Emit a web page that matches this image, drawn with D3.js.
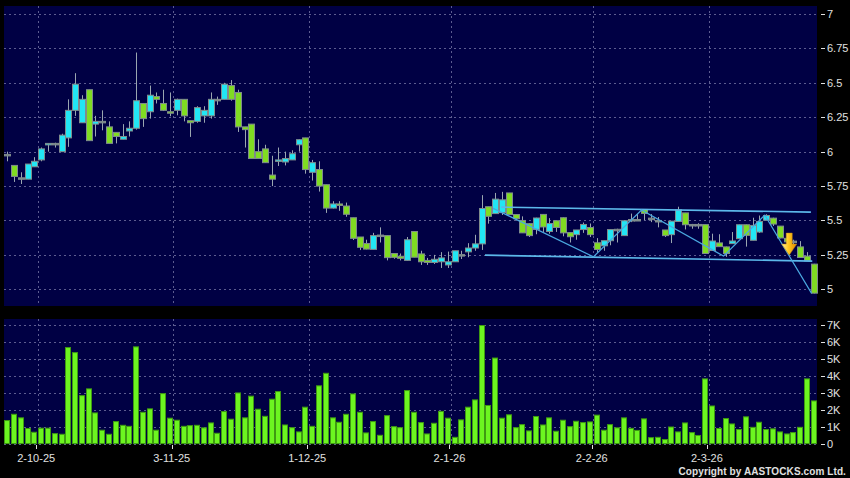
<!DOCTYPE html>
<html>
<head>
<meta charset="utf-8">
<script src="https://d3js.org/d3.v7.min.js"></script>
<style>
    body { margin: 0; background: #000; }
    svg { display: block; font-family: "Liberation Sans", Arial, sans-serif; }
</style>
</head>
<body>
<div id="chart"></div>
<script>
// daily candles, oldest first (index 0 = 25 Sep 2025)
var opens = [5.98,5.90,5.81,5.80,5.89,5.94,6.05,6.06,6.00,6.10,
    6.30,6.21,6.45,6.20,6.22,6.18,6.14,6.09,6.15,6.17,
    6.35,6.29,6.40,6.35,6.29,6.30,6.38,6.225,6.22,6.26,
    6.26,6.38,6.38,6.48,6.43,6.18,6.20,6.00,6.02,5.83,
    5.93,5.925,5.94,6.05,6.10,5.85,5.87,5.76,5.59,5.62,
    5.605,5.52,5.38,5.333,5.29,5.394,5.39,5.26,5.24,5.21,
    5.42,5.257,5.21,5.195,5.20,5.177,5.20,5.252,5.272,5.30,
    5.33,5.60,5.55,5.557,5.70,5.543,5.50,5.477,5.435,5.544,
    5.42,5.498,5.52,5.412,5.397,5.434,5.449,5.338,5.316,5.353,
    5.436,5.39,5.507,5.507,5.58,5.517,5.50,5.431,5.397,5.493,
    5.555,5.471,5.471,5.47,5.282,5.337,5.308,5.332,5.368,5.469,
    5.356,5.416,5.502,5.517,5.459,5.37,5.35,5.308,5.241,5.183];
var highs = [6.00,5.90,5.85,5.91,5.96,6.03,6.06,6.065,6.13,6.38,
    6.57,6.41,6.45,6.26,6.30,6.22,6.14,6.20,6.22,6.72,
    6.35,6.48,6.43,6.45,6.43,6.385,6.38,6.225,6.33,6.33,
    6.43,6.40,6.50,6.52,6.45,6.18,6.20,6.09,6.05,5.97,
    6.03,6.00,6.01,6.09,6.10,5.94,5.93,5.76,5.64,5.64,
    5.63,5.52,5.38,5.36,5.41,5.45,5.39,5.26,5.26,5.38,
    5.42,5.28,5.228,5.25,5.27,5.274,5.28,5.28,5.335,5.396,
    5.684,5.60,5.70,5.708,5.70,5.543,5.53,5.48,5.52,5.545,
    5.517,5.50,5.522,5.412,5.431,5.485,5.478,5.372,5.353,5.434,
    5.44,5.50,5.55,5.546,5.581,5.546,5.525,5.431,5.495,5.60,
    5.555,5.475,5.48,5.47,5.404,5.40,5.31,5.416,5.47,5.47,
    5.52,5.536,5.545,5.52,5.46,5.39,5.36,5.35,5.27,5.185];
var lows = [5.93,5.78,5.765,5.80,5.89,5.93,6.00,6.03,6.00,6.035,
    6.26,6.21,6.08,6.11,6.155,6.06,6.06,6.09,6.11,6.16,
    6.18,6.24,6.35,6.295,6.257,6.264,6.22,6.107,6.21,6.21,
    6.24,6.34,6.38,6.37,6.143,6.03,5.95,5.95,5.92,5.75,
    5.896,5.90,5.94,6.00,5.84,5.79,5.71,5.555,5.587,5.57,
    5.527,5.358,5.285,5.29,5.29,5.34,5.21,5.222,5.21,5.208,
    5.233,5.177,5.177,5.184,5.155,5.155,5.20,5.22,5.233,5.28,
    5.286,5.477,5.55,5.54,5.543,5.50,5.41,5.38,5.40,5.417,
    5.404,5.417,5.385,5.34,5.36,5.41,5.38,5.267,5.28,5.32,
    5.34,5.39,5.488,5.50,5.502,5.488,5.45,5.38,5.336,5.49,
    5.435,5.44,5.44,5.26,5.28,5.31,5.236,5.332,5.368,5.31,
    5.356,5.41,5.50,5.46,5.37,5.33,5.32,5.23,5.207,4.97];
var closes = [5.98,5.82,5.81,5.91,5.93,6.02,6.06,6.06,6.12,6.30,
    6.49,6.38,6.08,6.22,6.22,6.06,6.11,6.11,6.17,6.37,
    6.24,6.41,6.38,6.30,6.28,6.38,6.26,6.21,6.32,6.30,
    6.38,6.38,6.49,6.38,6.18,6.16,5.95,5.95,5.92,5.80,
    5.94,5.95,5.985,6.087,5.87,5.92,5.75,5.59,5.62,5.61,
    5.545,5.37,5.305,5.292,5.39,5.394,5.23,5.232,5.225,5.36,
    5.233,5.20,5.195,5.218,5.228,5.20,5.28,5.252,5.30,5.33,
    5.587,5.53,5.655,5.65,5.543,5.513,5.41,5.39,5.518,5.453,
    5.478,5.449,5.41,5.382,5.431,5.471,5.397,5.289,5.353,5.434,
    5.436,5.498,5.507,5.507,5.551,5.517,5.50,5.39,5.495,5.577,
    5.469,5.471,5.471,5.26,5.351,5.31,5.26,5.351,5.469,5.392,
    5.464,5.493,5.536,5.474,5.373,5.345,5.35,5.231,5.207,4.972];
// volume in thousands of shares
var volumes = [1.36,1.73,1.52,0.89,0.67,0.91,0.91,0.59,0.55,5.67,
    5.37,2.83,3.23,1.81,0.79,0.55,1.30,1.08,1.02,5.71,
    1.85,2.05,0.79,2.95,1.50,1.38,1.02,1.06,1.08,0.93,
    1.22,0.61,1.89,1.44,2.99,1.52,2.80,2.03,1.61,2.62,
    3.07,1.10,0.94,0.69,2.15,1.02,3.41,4.15,1.52,1.26,
    1.73,2.93,1.85,0.63,1.30,0.49,1.65,1.00,0.94,3.13,
    1.85,1.24,0.57,1.20,1.90,1.50,0.37,1.40,2.15,2.58,
    6.97,2.25,5.05,1.50,1.70,0.94,1.12,0.75,1.60,1.10,
    1.52,0.73,1.38,1.00,1.32,1.24,1.28,1.68,0.79,1.12,
    0.93,1.52,0.90,0.78,1.46,0.35,0.37,0.24,0.98,0.69,
    1.22,0.65,0.48,3.82,2.22,0.89,1.48,1.16,0.83,1.58,
    0.96,1.26,0.83,0.87,0.69,0.57,0.65,0.96,3.82,2.52];

// month-start ticks (first trading day) and their candle index
var monthLabels = ["2-10-25", "3-11-25", "1-12-25", "2-1-26", "2-2-26", "2-3-26"];
var monthIndex = [4, 24, 44, 65, 86, 103];

var priceTicks = [5, 5.25, 5.5, 5.75, 6, 6.25, 6.5, 6.75, 7];
var volumeTicks = [0, 1, 2, 3, 4, 5, 6, 7];

// drawn trend lines: [candle index, price]
var channelTop = [[72.9, 5.597], [118.6, 5.561]];
var channelBottom = [[70.5, 5.248], [118.8, 5.205]];
var zigzag = [[71.7, 5.588], [86.5, 5.236], [93.6, 5.576], [105.7, 5.241], [111.8, 5.539], [118.7, 4.97]];
var sellSignal = [115.4, 5.2485];

var width = 850, height = 478;
var plot = {left: 4, right: 817},
    pricePanel = {top: 6, bottom: 306},
    volPanel = {top: 319, bottom: 444};

var svg = d3.select("#chart").append("svg")
    .attr("width", width)
    .attr("height", height);

svg.append("rect").attr("width", width).attr("height", height).attr("fill", "#000");

var n = closes.length;
var x = d3.scaleLinear().domain([-0.5, n - 0.5]).range([plot.left, plot.right]);
var yPrice = d3.scaleLinear().domain([5, 7]).range([289.3, 14]);
var yVol = d3.scaleLinear().domain([0, 7]).range([443.6, 325]);

var gridColor = "#5c5c90",
    textColor = "#e0e0e0",
    upColor = "#22e6f4",
    downColor = "#80dc22",
    edgeColor = "#7f8c8c",
    wickColor = "#9aa6b0";

// panels
[pricePanel, volPanel].forEach(function (p) {
    svg.append("rect")
        .attr("x", plot.left)
        .attr("y", p.top)
        .attr("width", plot.right - plot.left)
        .attr("height", p.bottom - p.top)
        .attr("fill", "#000044");
});

// horizontal grid + right axis labels
function yGrid(scale, ticks, fmt) {
    var g = svg.append("g");
    g.selectAll("line.grid")
        .data(ticks)
        .enter().append("line")
        .attr("class", "grid")
        .attr("x1", plot.left).attr("x2", plot.right)
        .attr("y1", function (d) { return Math.round(scale(d)) + 0.5; })
        .attr("y2", function (d) { return Math.round(scale(d)) + 0.5; })
        .attr("stroke", gridColor)
        .attr("stroke-dasharray", "2,3");
    g.selectAll("line.tick")
        .data(ticks)
        .enter().append("line")
        .attr("class", "tick")
        .attr("x1", 821).attr("x2", 825)
        .attr("y1", function (d) { return Math.round(scale(d)) + 0.5; })
        .attr("y2", function (d) { return Math.round(scale(d)) + 0.5; })
        .attr("stroke", textColor);
    g.selectAll("text")
        .data(ticks)
        .enter().append("text")
        .attr("x", 827)
        .attr("y", function (d) { return scale(d) + 4; })
        .attr("fill", textColor)
        .style("font-size", "11px")
        .text(fmt);
}
yGrid(yPrice, priceTicks, function (d) { return String(d); });
yGrid(yVol, volumeTicks, function (d) { return d === 0 ? "0" : d + "K"; });

// vertical month grid in both panels
[pricePanel, volPanel].forEach(function (p) {
    svg.append("g").selectAll("line")
        .data(monthIndex)
        .enter().append("line")
        .attr("x1", function (d) { return Math.round(x(d + 0.5)) + 0.5; })
        .attr("x2", function (d) { return Math.round(x(d + 0.5)) + 0.5; })
        .attr("y1", p.top).attr("y2", p.bottom)
        .attr("stroke", gridColor)
        .attr("stroke-dasharray", "2,3");
});

// x axis ticks and labels
var xAxis = svg.append("g");
xAxis.selectAll("line")
    .data(monthIndex)
    .enter().append("line")
    .attr("x1", function (d) { return Math.round(x(d + 0.25)) + 0.5; })
    .attr("x2", function (d) { return Math.round(x(d + 0.25)) + 0.5; })
    .attr("y1", 445).attr("y2", 449)
    .attr("stroke", textColor);
xAxis.selectAll("text")
    .data(monthIndex)
    .enter().append("text")
    .attr("x", function (d) { return x(d + 0.25); })
    .attr("y", 462)
    .attr("text-anchor", "middle")
    .attr("fill", textColor)
    .style("font-size", "11px")
    .text(function (d, i) { return monthLabels[i]; });

// volume bars
svg.append("g").selectAll("rect")
    .data(volumes)
    .enter().append("rect")
    .attr("x", function (d, i) { return Math.round(x(i)) - 2.5; })
    .attr("y", function (d) { return yVol(d); })
    .attr("width", 5)
    .attr("height", function (d) { return yVol(0) - yVol(d); })
    .attr("fill", "#6cf520")
    .attr("stroke", "#3f9a12")
    .attr("stroke-width", 1);

// candles
var candles = svg.append("g").selectAll("g")
    .data(d3.range(n))
    .enter().append("g");

candles.append("line")
    .attr("x1", function (i) { return Math.round(x(i)) + 0.5; })
    .attr("x2", function (i) { return Math.round(x(i)) + 0.5; })
    .attr("y1", function (i) { return yPrice(highs[i]); })
    .attr("y2", function (i) { return yPrice(lows[i]); })
    .attr("stroke", wickColor);

candles.append("rect")
    .attr("x", function (i) { return Math.round(x(i)) - 2.5; })
    .attr("y", function (i) { return yPrice(Math.max(opens[i], closes[i])); })
    .attr("width", 6)
    .attr("height", function (i) {
        return Math.max(1.5, yPrice(Math.min(opens[i], closes[i])) - yPrice(Math.max(opens[i], closes[i])));
    })
    .attr("fill", function (i) {
        if (closes[i] > opens[i]) return upColor;
        if (closes[i] < opens[i]) return downColor;
        return edgeColor;
    })
    .attr("stroke", edgeColor)
    .attr("stroke-width", 1);

// trend lines
var line = d3.line()
    .x(function (d) { return x(d[0]); })
    .y(function (d) { return yPrice(d[1]); });

[channelTop, channelBottom].forEach(function (pts) {
    svg.append("path")
        .attr("d", line(pts))
        .attr("fill", "none")
        .attr("stroke", "#5cb8ea")
        .attr("stroke-width", 1.6);
});
svg.append("path")
    .attr("d", line(zigzag))
    .attr("fill", "none")
    .attr("stroke", "#4aa8e0")
    .attr("stroke-width", 1.2);

// sell arrow
var grad = svg.append("defs").append("linearGradient")
    .attr("id", "arrowGrad")
    .attr("x1", "0%").attr("x2", "100%");
grad.append("stop").attr("offset", "0%").attr("stop-color", "#fff09a");
grad.append("stop").attr("offset", "45%").attr("stop-color", "#ffc820");
grad.append("stop").attr("offset", "100%").attr("stop-color", "#e08a00");

var tx = x(sellSignal[0]), ty = yPrice(sellSignal[1]);
svg.append("path")
    .attr("d", "M" + (tx - 3) + "," + (ty - 22) +
        "L" + (tx + 3) + "," + (ty - 22) +
        "L" + (tx + 3) + "," + (ty - 11) +
        "L" + (tx + 7.5) + "," + (ty - 11) +
        "L" + tx + "," + ty +
        "L" + (tx - 7.5) + "," + (ty - 11) +
        "L" + (tx - 3) + "," + (ty - 11) + "Z")
    .attr("fill", "url(#arrowGrad)")
    .attr("stroke", "#c98a10")
    .attr("stroke-width", 0.5);

// copyright
svg.append("text")
    .attr("x", 846)
    .attr("y", 475)
    .attr("text-anchor", "end")
    .attr("fill", textColor)
    .style("font-size", "10px")
    .style("font-weight", "bold")
    .style("letter-spacing", "0.1px")
    .text("Copyright by AASTOCKS.com Ltd.");
</script>
</body>
</html>
